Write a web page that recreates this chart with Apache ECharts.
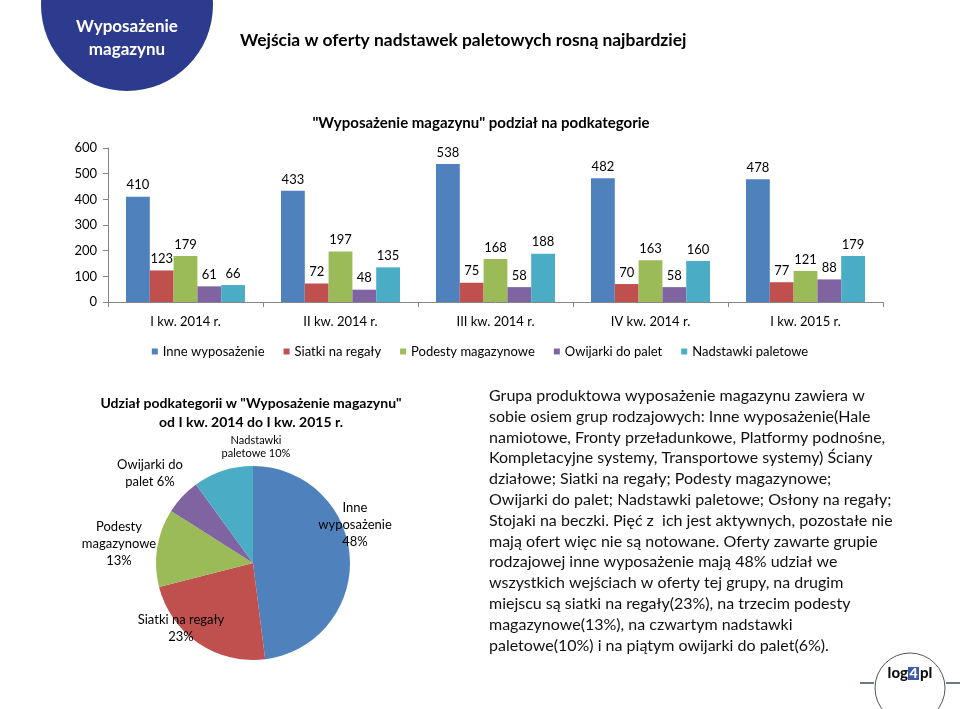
<!DOCTYPE html>
<html><head><meta charset="utf-8">
<script src="https://cdn.jsdelivr.net/npm/echarts@6/dist/echarts.min.js"></script>
<style>html,body{margin:0;padding:0;background:#fff}#c{width:960px;height:709px}</style>
</head><body><div id="c"></div>
<script>
// ---- data ----
const categories = ['I kw. 2014 r.', 'II kw. 2014 r.', 'III kw. 2014 r.', 'IV kw. 2014 r.', 'I kw. 2015 r.'];
const seriesNames = ['Inne wyposażenie', 'Siatki na regały', 'Podesty magazynowe', 'Owijarki do palet', 'Nadstawki paletowe'];
const inneValues = [410, 433, 538, 482, 478];
const siatkiValues = [123, 72, 75, 70, 77];
const podestyValues = [179, 197, 168, 163, 121];
const owijarkiValues = [61, 48, 58, 58, 88];
const nadstawkiValues = [66, 135, 188, 160, 179];
const yTickLabels = ['0', '100', '200', '300', '400', '500', '600'];
const pieShares = [48, 23, 13, 6, 10];
const pieLabelNames = ['Inne\nwyposażenie', 'Siatki na regały', 'Podesty\nmagazynowe', 'Owijarki do\npalet', 'Nadstawki\npaletowe'];
const pieLabelJoin = ['\n', '\n', '\n', ' ', ' '];

const mainTitle = 'Wejścia w oferty nadstawek paletowych rosną najbardziej';
const badgeText = 'Wyposażenie\nmagazynu';
const barTitle = '"Wyposażenie magazynu" podział na podkategorie';
const pieTitle = 'Udział podkategorii w "Wyposażenie magazynu"\nod I kw. 2014 do I kw. 2015 r.';
const paragraph = [
  'Grupa produktowa wyposażenie magazynu zawiera w',
  'sobie osiem grup rodzajowych: Inne wyposażenie(Hale',
  'namiotowe, Fronty przeładunkowe, Platformy podnośne,',
  'Kompletacyjne systemy, Transportowe systemy) Ściany',
  'działowe; Siatki na regały; Podesty magazynowe;',
  'Owijarki do palet; Nadstawki paletowe; Osłony na regały;',
  'Stojaki na beczki. Pięć z  ich jest aktywnych, pozostałe nie',
  'mają ofert więc nie są notowane. Oferty zawarte grupie',
  'rodzajowej inne wyposażenie mają 48% udział we',
  'wszystkich wejściach w oferty tej grupy, na drugim',
  'miejscu są siatki na regały(23%), na trzecim podesty',
  'magazynowe(13%), na czwartym nadstawki',
  'paletowe(10%) i na piątym owijarki do palet(6%).'
];

// ---- styles ----
const colors = ['#4F81BD', '#C0504D', '#9BBB59', '#8064A2', '#4BACC6'];
const FONT = 'Lato';
const pieLabelPos = [[355, 525], [181, 628], [119, 544], [150, 473], [256, 447]];

const allValues = [inneValues, siatkiValues, podestyValues, owijarkiValues, nadstawkiValues];

const chart = echarts.init(document.getElementById('c'), null, { renderer: 'canvas' });

const barSeries = allValues.map((vals, i) => ({
  name: seriesNames[i],
  type: 'bar',
  data: vals,
  barWidth: 23.8,
  barGap: '0%',
  itemStyle: { color: colors[i] },
  label: { show: true, position: 'top', distance: 5, color: '#000', fontSize: 13, fontFamily: FONT },
  emphasis: { disabled: true }
}));

const pieSeries = {
  type: 'pie',
  center: [253, 563],
  radius: 97,
  startAngle: 90,
  clockwise: true,
  avoidLabelOverlap: false,
  emphasis: { disabled: true },
  data: pieShares.map((v, i) => ({
    name: seriesNames[i],
    value: v,
    itemStyle: { color: colors[i] },
    label: i === 4 ? { fontSize: 11, lineHeight: 13 } : {}
  })),
  label: {
    show: true,
    color: '#000',
    fontSize: 13,
    lineHeight: 17,
    fontFamily: FONT,
    align: 'center',
    formatter: p => pieLabelNames[p.dataIndex] + pieLabelJoin[p.dataIndex] + p.value + '%'
  },
  labelLine: { show: false },
  labelLayout: p => ({
    x: pieLabelPos[p.dataIndex][0],
    y: pieLabelPos[p.dataIndex][1],
    align: 'center',
    verticalAlign: 'middle'
  })
};

const option = {
  animation: false,
  backgroundColor: '#fff',
  textStyle: { fontFamily: FONT },
  grid: { left: 108, right: 77, top: 148, bottom: 407, containLabel: false },
  legend: {
    data: seriesNames,
    top: 340,
    left: 'center',
    icon: 'rect',
    itemWidth: 6,
    itemHeight: 6,
    itemGap: 19,
    textStyle: { fontSize: 13, color: '#000', fontFamily: FONT }
  },
  xAxis: {
    type: 'category',
    data: categories,
    axisLine: { lineStyle: { color: '#868686' } },
    axisTick: { show: true, length: 5, alignWithLabel: false, lineStyle: { color: '#868686' } },
    axisLabel: { color: '#000', fontSize: 13, margin: 13, fontFamily: FONT }
  },
  yAxis: {
    type: 'value',
    min: 0,
    max: 600,
    interval: 100,
    axisLine: { show: true, lineStyle: { color: '#868686' } },
    axisTick: { show: true, length: 5, lineStyle: { color: '#868686' } },
    splitLine: { show: false },
    axisLabel: {
      color: '#000', fontSize: 13, margin: 11, fontFamily: FONT,
      formatter: (v) => yTickLabels[Math.round(v / 100)]
    }
  },
  series: barSeries.concat([pieSeries]),
  graphic: [
    { type: 'circle', shape: { cx: 127, cy: 5, r: 86 }, style: { fill: '#2d3b8e' } },
    { type: 'text', x: 127, y: 38, style: { text: badgeText, fill: '#fff', fontSize: 17, fontWeight: 'bold', fontFamily: FONT, lineHeight: 23, align: 'center', verticalAlign: 'middle' } },
    { type: 'text', x: 240, y: 40, style: { text: mainTitle, fill: '#000', fontSize: 17.4, fontWeight: 'bold', fontFamily: FONT, align: 'left', verticalAlign: 'middle' } },
    { type: 'text', x: 481, y: 123, style: { text: barTitle, fill: '#000', fontSize: 15, fontWeight: 'bold', fontFamily: FONT, align: 'center', verticalAlign: 'middle' } },
    { type: 'text', x: 251, y: 413, style: { text: pieTitle, fill: '#000', fontSize: 14, fontWeight: 'bold', fontFamily: FONT, lineHeight: 19, align: 'center', verticalAlign: 'middle' } },
    { type: 'text', x: 489, y: 385.5, style: { text: paragraph.join('\n'), fill: '#111', fontSize: 16, fontFamily: FONT, lineHeight: 20.8, align: 'left', verticalAlign: 'top' } },
    // logo
    { type: 'line', shape: { x1: 860, y1: 683, x2: 874, y2: 683 }, style: { stroke: '#6b7a8f', lineWidth: 2 } },
    { type: 'line', shape: { x1: 946, y1: 683, x2: 960, y2: 683 }, style: { stroke: '#6b7a8f', lineWidth: 2 } },
    { type: 'circle', shape: { cx: 910, cy: 688, r: 35 }, style: { fill: '#fff', stroke: '#555', lineWidth: 1 } },
    { type: 'rect', shape: { x: 908, y: 667, width: 11, height: 13 }, style: { fill: '#3c5aa8' } },
    { type: 'text', x: 908, y: 673, style: { text: 'log', fill: '#111', fontSize: 15, fontWeight: 900, fontFamily: FONT, align: 'right', verticalAlign: 'middle' } },
    { type: 'text', x: 913.5, y: 673, style: { text: '4', fill: '#fff', fontSize: 14, fontWeight: 900, fontFamily: FONT, align: 'center', verticalAlign: 'middle' } },
    { type: 'text', x: 920, y: 673, style: { text: 'pl', fill: '#111', fontSize: 15, fontWeight: 900, fontFamily: FONT, align: 'left', verticalAlign: 'middle' } }
  ]
};

chart.setOption(option);
</script>
</body></html>
